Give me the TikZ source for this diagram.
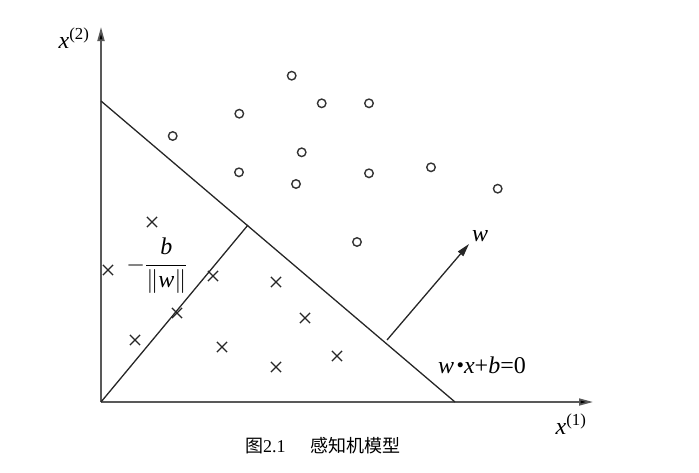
\documentclass[tikz,border=0pt]{standalone}
\usepackage{fix-cm}
\usepackage{amsmath}
\usepackage{fontspec}
\setmainfont{Liberation Serif}
\newfontfamily\cjk{Noto Sans CJK SC}
\usetikzlibrary{arrows.meta,shapes.misc}
\newcommand{\vi}[1]{\textit{#1}}
\begin{document}
\begin{tikzpicture}[x=1pt,y=-1pt,
  axis/.style={line width=1.7pt,draw=black!65,-{Triangle[length=14pt,width=7pt,fill=black]}},
  sep/.style={line width=1.3pt,draw=black!85},
  circ/.style={circle,draw=black!80,line width=1.4pt,minimum size=8.5pt,inner sep=0pt},
  crs/.style={cross out,draw=black!85,line width=1.2pt,minimum size=9pt,inner sep=0pt},
  lbl/.style={font=\fontsize{24}{28}\selectfont,inner sep=0pt}]
\useasboundingbox (0,0) rectangle (699,472);
\coordinate (O) at (101,402);
\coordinate (Ytip) at (101,27);
\coordinate (Xtip) at (593,402);
\coordinate (L1) at (101,101);
\coordinate (L2) at (455,402);
\coordinate (F) at (248,225);
\coordinate (W0) at (387,340);
\coordinate (W1) at (469,244);
\draw[axis] (O) -- (Ytip);
\draw[axis] (O) -- (Xtip);
\draw[sep] (L1) -- (L2);
\draw[sep] (O) -- (F);
\draw[sep,-{Triangle[length=13pt,width=7pt]}] (W0) -- (W1);
\node[lbl] (xtwo) at (74,38) {\vi{x}\textsuperscript{(2)}};
\node[lbl] (xone) at (571,424) {\vi{x}\textsuperscript{(1)}};
\node[lbl] (wl) at (480,236) {\vi{w}};
\node[lbl] (eq) at (482,365) {\vi{w}\hspace{0.12em}\raisebox{0.2em}{\fontsize{13}{13}\selectfont$\bullet$}\hspace{0.02em}\vi{x}+\vi{b}=0};
\node[lbl] (nb) at (157,266) {$-\dfrac{\vi{b}}{\|\vi{w}\|}$};
\node[font=\fontsize{18}{22}\selectfont] (cap) at (323,446) {{\cjk 图}2.1\hspace{1.4em}{\cjk 感知机模型}};
\foreach \p [count=\i] in {(291.7,75.7),(321.7,103.3),(369,103.3),(239.3,113.7),(172.7,136),(301.7,152.3),(239,172.3),(296,184),(369,173.3),(431,167.3),(497.7,188.7),(357,242)}
  \node[circ] (c\i) at \p {};
\foreach \p [count=\i] in {(152,222),(108,270),(213,276),(276,282),(177,313),(305,318),(135,340),(222,347),(337,356),(276,367)}
  \node[crs] (k\i) at \p {};
\end{tikzpicture}
\end{document}
